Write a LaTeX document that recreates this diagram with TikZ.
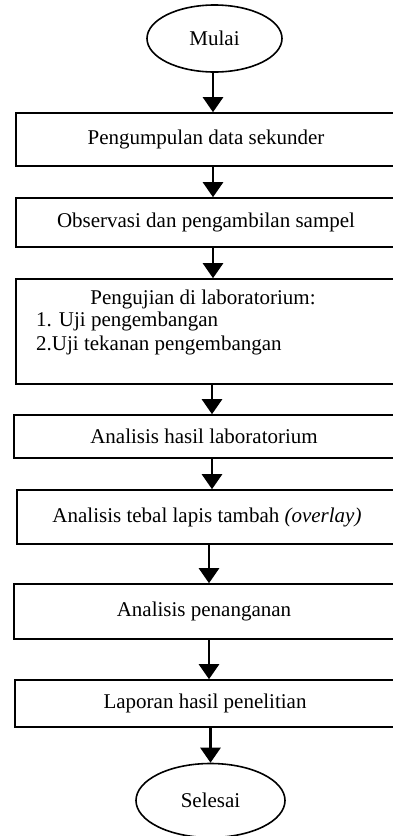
\documentclass[tikz,border=0pt]{standalone}
\usepackage{fontspec}
\setmainfont{Liberation Serif}
\usetikzlibrary{arrows.meta,shapes}
\usetikzlibrary{positioning}
\tikzset{
    terminal/.style={draw=black, ellipse, line width=1.6pt, inner sep=0pt},
    process/.style={draw=black, rectangle, line width=1.6pt, minimum width=380pt, inner sep=0pt},
    flow/.style={draw=black, line width=2.6pt, -{Triangle[length=15pt,width=20pt]}},
}

\begin{document}
\begin{tikzpicture}[x=1pt, y=1pt, font=\fontsize{21pt}{25pt}\selectfont]
\useasboundingbox (0,0) rectangle (392,-836);
	\node[terminal, minimum width=135pt, minimum height=67pt] (mulai) at (214.5,-38.5) {Mulai};
	\node[process, minimum height=53pt] (data) at (206,-139.5) {Pengumpulan data sekunder};
	\node[process, minimum height=49pt] (observasi) at (206,-222.5) {Observasi dan pengambilan sampel};
	\node[process, minimum height=105pt] (uji) at (206,-331.5) {};
	\node[anchor=base] (ujijudul) at (203,-304) {Pengujian di laboratorium:};
	\node[anchor=base west, inner sep=0pt] (ujisatu) at (36,-326) {1. Uji pengembangan};
	\node[anchor=base west, inner sep=0pt] (ujidua) at (36,-350) {2.Uji tekanan pengembangan};
	\node[process, minimum height=43pt] (hasil) at (204,-436.5) {Analisis hasil laboratorium};
	\node[process, minimum height=54pt] (overlay) at (207,-517) {Analisis tebal lapis tambah \textit{(overlay)}};
	\node[process, minimum height=55pt] (penanganan) at (204,-611.5) {Analisis penanganan};
	\node[process, minimum height=47pt] (laporan) at (205,-703.5) {Laporan hasil penelitian};
	\node[terminal, minimum width=149pt, minimum height=74pt] (selesai) at (210.5,-800.5) {Selesai};
	\draw[flow] ([xshift=-1.5pt]mulai.south) -- ([xshift=-1.5pt]mulai.south |- data.north);
	\draw[flow] ([xshift=7pt]data.south) -- ([xshift=7pt]observasi.north);
	\draw[flow] ([xshift=7pt]observasi.south) -- ([xshift=7pt]uji.north);
	\draw[flow] ([xshift=6pt]uji.south) -- ([xshift=6pt]uji.south |- hasil.north);
	\draw[flow] ([xshift=8pt]hasil.south) -- ([xshift=8pt]hasil.south |- overlay.north);
	\draw[flow] ([xshift=2pt]overlay.south) -- ([xshift=2pt]overlay.south |- penanganan.north);
	\draw[flow] ([xshift=5pt]penanganan.south) -- ([xshift=5pt]penanganan.south |- laporan.north);
	\draw[flow] (laporan.south -| selesai.north) -- (selesai.north);
\end{tikzpicture}
\end{document}
